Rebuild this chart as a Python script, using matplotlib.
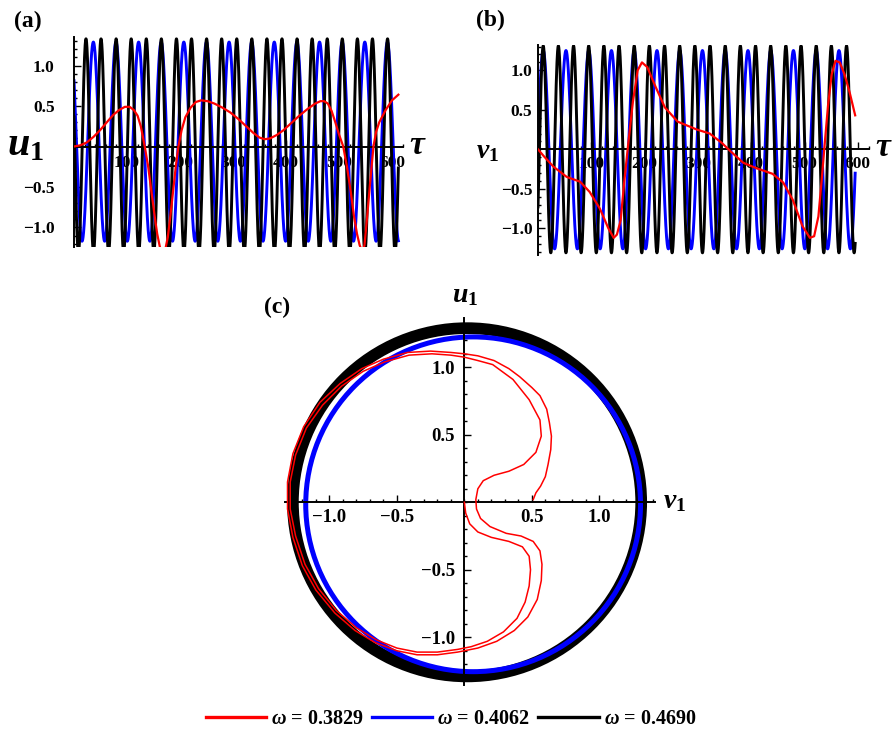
import numpy as np
import matplotlib
matplotlib.use("Agg")
import matplotlib.pyplot as plt
from matplotlib.lines import Line2D
from matplotlib.patches import Circle
from matplotlib.ticker import FixedLocator, FixedFormatter, MultipleLocator

plt.rcParams['font.family'] = ['Liberation Serif', 'DejaVu Serif']
plt.rcParams['font.weight'] = 'bold'
plt.rcParams['mathtext.fontset'] = 'custom'
plt.rcParams['mathtext.it'] = 'Liberation Serif:italic:bold'
plt.rcParams['mathtext.rm'] = 'Liberation Serif:bold'
plt.rcParams['mathtext.bf'] = 'Liberation Serif:bold'

# ---- panel (a): u1 vs tau ----
# peak times of the fast oscillations
black_a_peaks = [-5.9, 22.6, 51.0, 79.5, 107.9, 136.4, 164.8, 193.3, 221.7, 250.2, 278.6,
                 307.1, 335.5, 364.0, 392.4, 420.9, 449.3, 477.8, 506.2, 534.7, 563.1, 591.6, 620.1]
black_a_range = (1.33, -1.30)   # peak value, trough value
blue_a_peaks = [-6.2, 36.5, 79.2, 121.9, 164.5, 207.2, 249.9, 292.6, 335.3, 377.9,
                420.6, 463.3, 506.0, 548.7, 591.3, 634.0]
blue_a_range = (1.29, -1.17)
tau_end_a = 612

red_a_tau = [0, 12, 24, 37, 49, 62, 74, 85, 96, 105, 113, 120, 126, 130, 134, 140, 146, 152, 157,
             162, 167, 172, 177, 182, 187, 192, 197, 203, 210, 220, 230, 240, 252, 265, 280, 295,
             310, 325, 338, 350, 360, 370, 382, 395, 410, 425, 440, 455, 465, 472, 479, 486, 493,
             500, 508, 515, 522, 528, 534, 539, 544, 548, 552, 558, 565, 570, 576, 588, 600, 612]
red_a_u = [0, 0.015, 0.05, 0.12, 0.2, 0.3, 0.39, 0.45, 0.49, 0.49, 0.45, 0.38, 0.25, 0.12, -0.02,
           -0.25, -0.55, -0.85, -1.08, -1.24, -1.31, -1.28, -1.12, -0.85, -0.55, -0.25, 0.0, 0.2,
           0.36, 0.48, 0.55, 0.57, 0.56, 0.53, 0.48, 0.42, 0.34, 0.25, 0.17, 0.11, 0.09, 0.1,
           0.14, 0.2, 0.29, 0.38, 0.46, 0.53, 0.56, 0.56, 0.53, 0.44, 0.3, 0.15, 0.0, -0.25,
           -0.55, -0.85, -1.08, -1.22, -1.3, -1.22, -0.95, -0.5, 0.0, 0.18, 0.3, 0.45, 0.57, 0.64]

# ---- panel (b): v1 vs tau ----
black_b_peaks = [-18.7, 9.8, 38.2, 66.7, 95.1, 123.6, 152.0, 180.5, 208.9, 237.4, 265.8, 294.3,
                 322.7, 351.2, 379.6, 408.1, 436.5, 465.0, 493.4, 521.9, 550.3, 578.8, 607.3]
black_b_range = (1.31, -1.31)
blue_b_peaks = [-32.8, 9.8, 52.5, 95.2, 137.8, 180.5, 223.2, 265.9, 308.5, 351.2, 393.9,
                436.6, 479.2, 521.9, 564.6, 607.3]
blue_b_range = (1.25, -1.26)
tau_end_b = 595

red_b_tau = [0, 10, 29, 54, 79, 97, 116, 132, 142, 148, 155, 162, 169, 178, 187, 195, 205, 220,
             238, 262, 298, 322, 345, 362, 385, 410, 440, 460, 478, 496, 510, 518, 526, 532, 537,
             544, 551, 558, 566, 575, 585, 595]
red_b_v = [0, -0.08, -0.22, -0.35, -0.41, -0.54, -0.75, -1.0, -1.12, -1.08, -0.9, -0.4, 0.05,
           0.6, 1.0, 1.1, 1.04, 0.8, 0.53, 0.35, 0.25, 0.2, 0.08, -0.03, -0.17, -0.24, -0.31,
           -0.42, -0.64, -0.97, -1.12, -1.1, -0.85, -0.4, 0.0, 0.55, 0.95, 1.12, 1.1, 0.95, 0.71, 0.43]

# ---- panel (c): phase portrait ----
black_ring = dict(center=(0.02, 0.0), radius=1.29)
blue_ring = dict(center=(0.065, -0.015), radius=1.24)

red_c_v = [0, 0.01, 0.04, 0.1, 0.2, 0.33, 0.43, 0.48, 0.49, 0.48, 0.45, 0.39, 0.29, 0.17, 0.05,
           -0.05, -0.2, -0.35, -0.5, -0.65, -0.8, -0.95, -1.08, -1.18, -1.25, -1.29, -1.29, -1.25,
           -1.17, -1.05, -0.91, -0.75, -0.59, -0.41, -0.24, -0.1, 0.0,
           0.1, 0.21, 0.36, 0.48, 0.56, 0.57, 0.53, 0.44, 0.33, 0.22, 0.14, 0.1, 0.085, 0.09,
           0.12, 0.19, 0.31, 0.42, 0.51, 0.56, 0.575, 0.57, 0.54, 0.47, 0.37, 0.24, 0.1, -0.05,
           -0.2, -0.35, -0.5, -0.66, -0.81, -0.96, -1.1, -1.2, -1.27, -1.31, -1.31, -1.27,
           -1.19, -1.07, -0.92, -0.76, -0.6, -0.42, -0.25, -0.1, 0.0,
           0.1, 0.22, 0.33, 0.41, 0.5, 0.56, 0.61, 0.63, 0.645, 0.64, 0.62, 0.6, 0.565, 0.53, 0.51]
red_c_u = [0, -0.08, -0.16, -0.22, -0.26, -0.29, -0.33, -0.4, -0.5, -0.62, -0.74, -0.86, -0.96,
           -1.03, -1.07, -1.09, -1.11, -1.11, -1.08, -1.02, -0.93, -0.8, -0.64, -0.46, -0.25,
           -0.05, 0.15, 0.35, 0.55, 0.72, 0.86, 0.97, 1.04, 1.09, 1.1, 1.09, 1.075,
           1.05, 1.02, 0.91, 0.76, 0.61, 0.49, 0.37, 0.28, 0.23, 0.2, 0.16, 0.1, 0.02, -0.05,
           -0.12, -0.18, -0.23, -0.25, -0.29, -0.36, -0.46, -0.58, -0.72, -0.85, -0.95, -1.03,
           -1.08, -1.11, -1.13, -1.13, -1.1, -1.04, -0.95, -0.82, -0.65, -0.47, -0.26, -0.05,
           0.15, 0.36, 0.56, 0.74, 0.88, 0.99, 1.06, 1.11, 1.12, 1.11, 1.1,
           1.085, 1.05, 0.99, 0.93, 0.85, 0.79, 0.69, 0.59, 0.49, 0.39, 0.28, 0.19, 0.12, 0.07, 0.02]

legend_labels = [r'$\omega$ = 0.3829', r'$\omega$ = 0.4062', r'$\omega$ = 0.4690']
legend_colors = ['red', 'blue', 'black']


def wave(peaks, rng, t):
    # smooth half-cosine swings between the listed peaks and the troughs halfway
    kt, ky = [], []
    for i, p in enumerate(peaks):
        kt.append(p)
        ky.append(rng[0])
        if i < len(peaks) - 1:
            kt.append((p + peaks[i + 1]) / 2)
            ky.append(rng[1])
    kt = np.array(kt)
    ky = np.array(ky)
    idx = np.clip(np.searchsorted(kt, t) - 1, 0, len(kt) - 2)
    s = (t - kt[idx]) / (kt[idx + 1] - kt[idx])
    return ky[idx] + (ky[idx + 1] - ky[idx]) * (1 - np.cos(np.pi * s)) / 2


W, H = 894, 729
fig = plt.figure(figsize=(W / 100, H / 100), dpi=100)


def add_ax(left, top, right, bottom):
    return fig.add_axes([left / W, 1 - bottom / H, (right - left) / W, (bottom - top) / H])


def style(ax, xpad, ypad, size):
    for s in ['top', 'right']:
        ax.spines[s].set_visible(False)
    for s in ['left', 'bottom']:
        ax.spines[s].set_linewidth(1.4)
    ax.spines['bottom'].set_position(('data', 0))
    ax.patch.set_alpha(0)
    ax.set_axisbelow(True)
    ax.tick_params(which='both', direction='in', width=1.0, labelsize=size)
    ax.tick_params(which='major', length=5)
    ax.tick_params(which='minor', length=2.5)
    ax.tick_params(axis='x', pad=xpad)
    ax.tick_params(axis='y', pad=ypad)


def time_ticks(ax):
    ax.xaxis.set_major_locator(FixedLocator([100, 200, 300, 400, 500, 600]))
    ax.xaxis.set_major_formatter(FixedFormatter(['100', '200', '300', '400', '500', '600']))
    ax.xaxis.set_minor_locator(MultipleLocator(20))
    ax.yaxis.set_major_locator(FixedLocator([-1.0, -0.5, 0.5, 1.0]))
    ax.yaxis.set_major_formatter(FixedFormatter(['\u22121.0', '\u22120.5', '0.5', '1.0']))
    ax.yaxis.set_minor_locator(MultipleLocator(0.1))


# (a)
ax1 = add_ax(74, 37.2, 402.6, 246.9)
t = np.linspace(0, tau_end_a, 6000)
ax1.plot(t, wave(blue_a_peaks, blue_a_range, t), color='blue', lw=2.1, zorder=2)
ax1.plot(t, wave(black_a_peaks, black_a_range, t), color='black', lw=2.1, zorder=2.1)
ax1.plot(red_a_tau, red_a_u, color='red', lw=1.6, zorder=3)
ax1.set_xlim(0, 620)
ax1.set_ylim(-1.24, 1.35)
style(ax1, 6, 14, 12.5)
time_ticks(ax1)

# (b)
ax2 = add_ax(538, 45.0, 868.5, 255.2)
t = np.linspace(0, tau_end_b, 6000)
ax2.plot(t, wave(blue_b_peaks, blue_b_range, t), color='blue', lw=2.1, zorder=2)
ax2.plot(t, wave(black_b_peaks, black_b_range, t), color='black', lw=2.1, zorder=2.1)
ax2.plot(red_b_tau, red_b_v, color='red', lw=1.6, zorder=3)
ax2.set_xlim(0, 620)
ax2.set_ylim(-1.34, 1.32)
style(ax2, 5, 4, 12.5)
time_ticks(ax2)

# (c)
ax3 = add_ax(284.8, 318.3, 654.7, 684.9)
ax3.add_patch(Circle(black_ring['center'], black_ring['radius'], fill=False,
                     ec='black', lw=8.4, zorder=1.8, clip_on=False))
ax3.add_patch(Circle(blue_ring['center'], blue_ring['radius'], fill=False,
                     ec='blue', lw=3.6, zorder=2.0, clip_on=False))
ax3.plot(red_c_v, red_c_u, color='red', lw=1.1, zorder=3, clip_on=False)
ax3.set_xlim(-1.33, 1.41)
ax3.set_ylim(-1.353, 1.363)
style(ax3, 5, 7, 13.5)
ax3.spines['left'].set_position(('data', 0))
for a in (ax3.xaxis, ax3.yaxis):
    a.set_major_locator(FixedLocator([-1.0, -0.5, 0.5, 1.0]))
    a.set_major_formatter(FixedFormatter(['\u22121.0', '\u22120.5', '0.5', '1.0']))
    a.set_minor_locator(MultipleLocator(0.1))

# axis labels and panel tags
fig.text(26 / W, 1 - 146 / H, r'$u_1$', fontsize=29, ha='center', va='center')
fig.text(418 / W, 1 - 146 / H, r'$\tau$', fontsize=24, ha='center', va='center')
fig.text(488 / W, 1 - 152 / H, r'$v_1$', fontsize=20, ha='center', va='center')
fig.text(893 / W, 1 - 147 / H, r'$\tau$', fontsize=24, ha='right', va='center')
fig.text(465 / W, 1 - 296 / H, r'$u_1$', fontsize=20, ha='center', va='center')
fig.text(675 / W, 1 - 502 / H, r'$v_1$', fontsize=20, ha='center', va='center')
fig.text(28 / W, 1 - 21 / H, '(a)', fontsize=17, ha='center', va='center')
fig.text(490 / W, 1 - 20 / H, '(b)', fontsize=17, ha='center', va='center')
fig.text(277 / W, 1 - 307 / H, '(c)', fontsize=17, ha='center', va='center')

handles = [Line2D([], [], color=c, lw=2.4) for c in legend_colors]
fig.legend(handles, legend_labels, loc='center', bbox_to_anchor=(451 / W, 1 - 719 / H),
           ncol=3, frameon=False, fontsize=14.5, handlelength=3.0, handletextpad=0.25,
           columnspacing=0.4, borderpad=0, borderaxespad=0)

fig.savefig('out.png', dpi=100)
